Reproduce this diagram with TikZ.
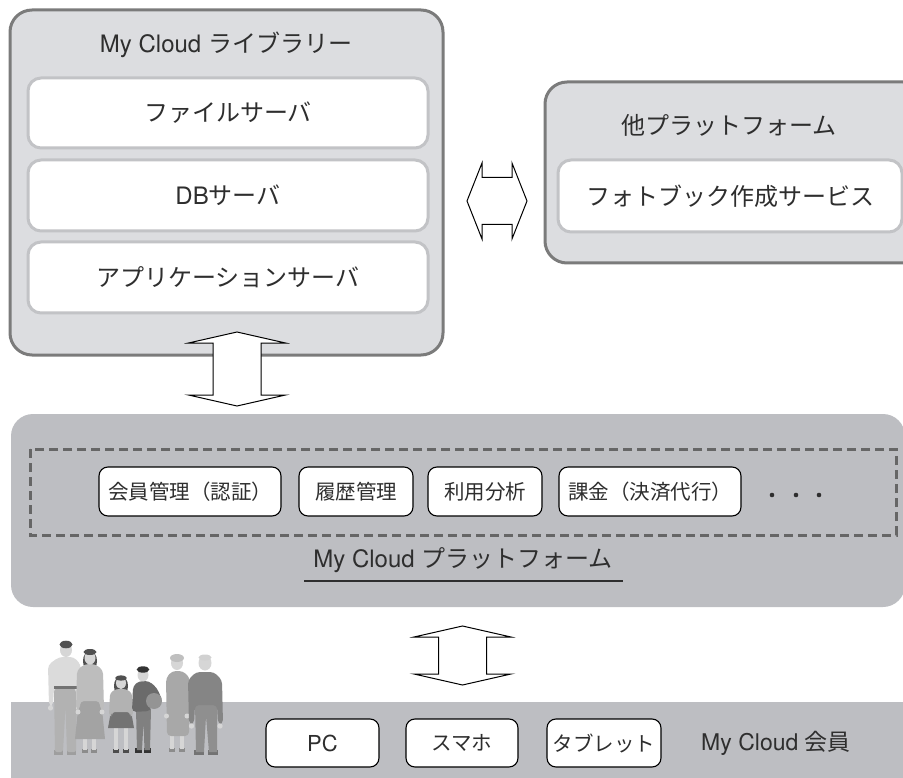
\documentclass[tikz,border=0pt]{standalone}
\usepackage{fontspec}
\setmainfont{TeX Gyre Heros}
\newfontfamily\jpfont{Noto Sans CJK JP}
\newcommand\jtext[1]{{\jpfont #1}}
\begin{document}
\begin{tikzpicture}[x=1pt,y=-1pt]
\definecolor{ink}{HTML}{2E2E2E}
\definecolor{panelfill}{HTML}{DCDDE0}
\definecolor{panelline}{HTML}{7B7B7B}
\definecolor{serverline}{HTML}{C2C3C6}
\definecolor{basefill}{HTML}{BDBEC2}
\definecolor{dashline}{HTML}{666666}
\definecolor{skin}{HTML}{D6D6D6}
\definecolor{hairdk}{HTML}{505050}
\tikzset{
  panel/.style={draw=panelline, fill=panelfill, line width=3pt, rounded corners=22pt, inner sep=0pt},
  server/.style={draw=serverline, fill=white, line width=3pt, rounded corners=13pt,
    minimum height=70pt, inner sep=0pt, text=ink, font=\fontsize{24}{28}\selectfont},
  title/.style={text=ink, inner sep=0pt, font=\fontsize{24}{28}\selectfont},
  svc/.style={draw=black, fill=white, line width=1.1pt, rounded corners=9pt,
    minimum height=49pt, inner sep=0pt, text=ink, font=\fontsize{20.5}{24}\selectfont},
  device/.style={svc, minimum height=48pt},
  blockarrow/.style={draw=black, fill=white, line width=1pt, line join=miter},
  pics/vdouble/.style={code={
    \draw[blockarrow] (0,-#1) -- (48.5,{-#1+11}) -- (24,{-#1+11}) -- (24,{#1-11})
      -- (48.5,{#1-11}) -- (0,#1) -- (-48.5,{#1-11}) -- (-24,{#1-11})
      -- (-24,{-#1+11}) -- (-48.5,{-#1+11}) -- cycle;}},
  pics/hdouble/.style={code={
    \draw[blockarrow] (-#1,0) -- ({-#1+15},-38) -- ({-#1+15},-23.5) -- ({#1-15},-23.5)
      -- ({#1-15},-38) -- (#1,0) -- ({#1-15},38) -- ({#1-15},23.5)
      -- ({-#1+15},23.5) -- ({-#1+15},38) -- cycle;}}
}
\useasboundingbox (0,0) rectangle (903,778);
\clip (0,0) rectangle (903,778);

% ---------- library ----------
\node[panel, minimum width=433pt, minimum height=345pt] (library) at (226.5,182.5) {};
\node[title] (libtitle) at (226,45) {My Cloud \jtext{ライブラリー}};
\node[server, minimum width=400pt] (fileserver) at (228,113) {\jtext{ファイルサーバ}};
\node[server, minimum width=400pt, minimum height=71pt] (dbserver) at (228,195.5) {DB\jtext{サーバ}};
\node[server, minimum width=400pt, minimum height=71pt] (appserver) at (228,277.5) {\jtext{アプリケーションサーバ}};

% ---------- other platform ----------
\node[panel, minimum width=380pt, minimum height=181pt] (other) at (735,172.5) {};
\node[title] (othertitle) at (729,125) {\jtext{他プラットフォーム}};
\node[server, minimum width=344pt, minimum height=72pt] (photobook) at (730,196) {\jtext{フォトブック作成サービス}};

\pic at (497,201) {hdouble=30};

% ---------- platform ----------
\node[fill=basefill, rounded corners=22pt, minimum width=894pt, minimum height=193pt, inner sep=0pt]
  (platform) at (458,510.5) {};
\draw[dashline, line width=3pt, dash pattern=on 9pt off 5pt]
  (30,449) rectangle (896,535);
\node[svc, minimum width=182pt] (auth) at (190,491.5) {\jtext{会員管理（認証）}};
\node[svc, minimum width=114pt] (history) at (356,491.5) {\jtext{履歴管理}};
\node[svc, minimum width=114pt] (usage) at (485,491.5) {\jtext{利用分析}};
\node[svc, minimum width=182pt] (billing) at (650,491.5) {\jtext{課金（決済代行）}};
\foreach \dx in {772,796,819} \fill[ink] (\dx,495) circle (2.3);
\node[title] (platlabel) at (463,560) {My Cloud \jtext{プラットフォーム}};
\coordinate (ulA) at (304,581);
\coordinate (ulB) at (623,581);
\draw[ink, line width=2pt] (ulA) -- (ulB);

\pic at (237,369) {vdouble=37};
\pic at (462.5,655.5) {vdouble=29.5};

% ---------- members ----------
\fill[basefill] (11,702) rectangle (910,790);
\node[device, minimum width=113pt, font=\fontsize{22}{26}\selectfont] (pc) at (322.5,743) {PC};
\node[device, minimum width=112pt] (phone) at (462,743) {\jtext{スマホ}};
\node[device, minimum width=114pt] (tablet) at (604,743) {\jtext{タブレット}};
\node[title, font=\fontsize{23}{27}\selectfont] (members) at (776,743) {My Cloud \jtext{会員}};

% family figures standing on the members bar
\begin{scope}
  % father
  \fill[black!38] (54,750) rectangle (63,755);
  \fill[black!38] (67,750) rectangle (76,755);
  \fill[black!30, rounded corners=2pt] (54,686) -- (77,686) -- (76,752) -- (67,752) -- (65.5,706) -- (63,752) -- (55,752) -- cycle;
  \fill[black!14, rounded corners=4pt] (49,706) -- (48,665) -- (59,657) -- (74,657) -- (81,665) -- (80,706) -- (76,706) -- (76,688) -- (54,688) -- (53,706) -- cycle;
  \fill[black!55] (54,686) rectangle (77,689);
  \fill[skin] (50.5,708) circle (2.6);
  \fill[skin] (78.5,708) circle (2.6);
  \fill[skin] (66,650) ellipse (6 and 7);
  \fill[hairdk] (66,644.5) ellipse (6.5 and 3.8);
  % mother
  \fill[black!45] (82,749) rectangle (88,753);
  \fill[black!45] (91,749) rectangle (97,753);
  \fill[skin] (83,736) rectangle (87,750);
  \fill[skin] (92,736) rectangle (96,750);
  \fill[black!36] (79,699) -- (101,699) -- (105,739) -- (75,739) -- cycle;
  \fill[hairdk] (90,661) ellipse (7 and 10);
  \fill[black!26, rounded corners=4pt] (76,710) -- (77,670) -- (85,664) -- (95,664) -- (103,670) -- (104,710) -- (100,710) -- (100,701) -- (80,701) -- (80,710) -- cycle;
  \fill[skin] (78,712) circle (2.5);
  \fill[skin] (102,712) circle (2.5);
  \fill[skin] (90,658) ellipse (5.5 and 6.5);
  \fill[hairdk] (90,652) ellipse (6.5 and 3);
  % girl
  \fill[black!70] (113,749) rectangle (119,753);
  \fill[black!70] (123,749) rectangle (129,753);
  \fill[skin] (114,726) rectangle (118,750);
  \fill[skin] (124,726) rectangle (128,750);
  \fill[black!55] (111,711) -- (131,711) -- (134,728) -- (108,728) -- cycle;
  \fill[hairdk] (121,686) ellipse (7 and 10);
  \fill[black!30, rounded corners=3pt] (109,716) -- (110,693) -- (116,689) -- (126,689) -- (132,693) -- (133,716) -- (130,716) -- (130,712) -- (112,712) -- (112,716) -- cycle;
  \fill[skin] (121,683) ellipse (5 and 6);
  \fill[hairdk] (121,678) ellipse (5.8 and 2.6);
  % boy
  \fill[black!80] (135,748) rectangle (142,753);
  \fill[black!80] (144,748) rectangle (151,753);
  \fill[black!50] (136,709) -- (151,709) -- (150,750) -- (144.5,750) -- (143.5,722) -- (142,750) -- (137,750) -- cycle;
  \fill[black!58, rounded corners=4pt] (132,712) -- (133,686) -- (139,681) -- (149,681) -- (157,688) -- (163,702) -- (156,705) -- (151,694) -- (151,711) -- cycle;
  \fill[black!42] (154,701) circle (8);
  \fill[skin] (143,675) ellipse (5.5 and 6.5);
  \fill[black!80] (143,669.5) ellipse (6.3 and 3.2);
  % grandmother
  \fill[black!45] (169,748) rectangle (175,752);
  \fill[black!45] (179,748) rectangle (185,752);
  \fill[skin] (170,733) rectangle (174,749);
  \fill[skin] (180,733) rectangle (184,749);
  \fill[black!34, rounded corners=4pt] (167,736) -- (166,678) -- (172,671) -- (183,671) -- (190,678) -- (189,736) -- cycle;
  \fill[skin] (166.5,716) circle (2.5);
  \fill[skin] (187,716) circle (2.5);
  \fill[skin] (177,663) ellipse (6 and 7);
  \fill[black!25] (177,658) ellipse (7 and 4);
  % grandfather
  \fill[black!55] (194,750) rectangle (204,755);
  \fill[black!55] (208,750) rectangle (218,755);
  \fill[black!44] (195,703) -- (217,703) -- (217,752) -- (209,752) -- (206,716) -- (204,752) -- (196,752) -- cycle;
  \fill[black!48, rounded corners=4pt] (189,724) -- (188,680) -- (196,672) -- (214,672) -- (222,680) -- (223,724) -- (218,724) -- (217,705) -- (195,705) -- (194,724) -- cycle;
  \fill[skin] (191.5,726) circle (2.7);
  \fill[skin] (220,726) circle (2.7);
  \fill[skin] (205,663) ellipse (6.5 and 7.5);
  \fill[black!18] (205,657.5) ellipse (6.5 and 3);
\end{scope}
\end{tikzpicture}
\end{document}
